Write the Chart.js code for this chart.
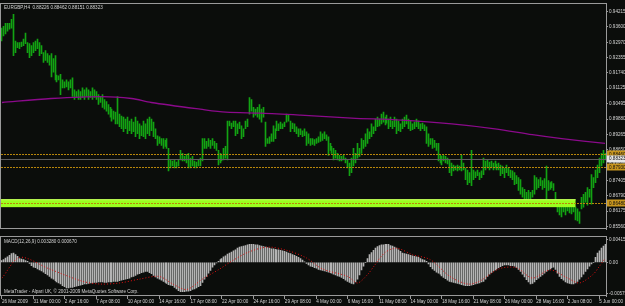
<!DOCTYPE html>
<html>
<head>
<meta charset="utf-8">
<script src="https://cdn.jsdelivr.net/npm/chart.js@4.4.1/dist/chart.umd.min.js"></script>
<style>
  html, body { margin: 0; padding: 0; background: #0b0d0b; overflow: hidden; }
  #wrap { position: relative; width: 625px; height: 306px; }
  canvas { position: absolute; left: 0; }
  #priceChart { top: 0; }
  #macdChart { top: 233px; }
</style>
</head>
<body>
<div id="wrap">
  <canvas id="priceChart" width="625" height="233"></canvas>
  <canvas id="macdChart" width="625" height="73"></canvas>
</div>
<script>
// EURGBP H4 bars, 26 Mar - 5 Jun 2009
const highs = [
  .9355,.9362,.9374,.9374,.9374,.9390,.9410,.9303,.9296,.9296,
  .9299,.9311,.9335,.9296,.9292,.9284,.9296,.9303,.9311,.9296,
  .9284,.9256,.9264,.9252,.9244,.9252,.9232,.9244,.9165,.9162,
  .9169,.9146,.9138,.9146,.9138,.9146,.9154,.9106,.9099,.9106,
  .9099,.9114,.9106,.9114,.9106,.9099,.9114,.9106,.9099,.9087,
  .9079,.9087,.9067,.9059,.9047,.9035,.9028,.9020,.9016,.9079,
  .9008,.9000,.8996,.8988,.8996,.8980,.8988,.8976,.8996,.8980,
  .8969,.8961,.8980,.8969,.8988,.8996,.8988,.8976,.8949,.8921,
  .8917,.8909,.8909,.8902,.8909,.8870,.8823,.8819,.8823,.8815,
  .8823,.8862,.8850,.8838,.8846,.8850,.8831,.8838,.8819,.8815,
  .8823,.8831,.8909,.8909,.8898,.8909,.8902,.8909,.8898,.8890,
  .8862,.8850,.8842,.8870,.8878,.8980,.8980,.8972,.8980,.8980,
  .8969,.8976,.8961,.8949,.8980,.8988,.9075,.9067,.9035,.9028,
  .9035,.9047,.9028,.9035,.8976,.8909,.8917,.8929,.8961,.8949,
  .8980,.8969,.8976,.8969,.8976,.9008,.9004,.8980,.8972,.8969,
  .8957,.8949,.8949,.8941,.8949,.8937,.8929,.8909,.8909,.8905,
  .8909,.8917,.8937,.8929,.8937,.8925,.8917,.8890,.8878,.8870,
  .8862,.8850,.8842,.8838,.8842,.8831,.8823,.8811,.8831,.8870,
  .8850,.8890,.8870,.8909,.8902,.8929,.8949,.8937,.8969,.8957,
  .8988,.8996,.8988,.9008,.9016,.8996,.9004,.8988,.8996,.8980,
  .8996,.8988,.8980,.8969,.8988,.8996,.9004,.8988,.8980,.8969,
  .8976,.8988,.8980,.8969,.8972,.8965,.8957,.8929,.8909,.8909,
  .8902,.8890,.8890,.8842,.8838,.8842,.8838,.8831,.8823,.8811,
  .8803,.8799,.8803,.8799,.8842,.8811,.8791,.8783,.8772,.8862,
  .8783,.8775,.8783,.8772,.8779,.8831,.8819,.8823,.8815,.8819,
  .8811,.8819,.8807,.8811,.8803,.8799,.8791,.8803,.8791,.8783,
  .8779,.8772,.8760,.8752,.8744,.8712,.8705,.8693,.8701,.8693,
  .8701,.8760,.8752,.8744,.8752,.8740,.8748,.8799,.8740,.8732,
  .8736,.8728,.8693,.8661,.8653,.8645,.8653,.8641,.8649,.8641,
  .8641,.8633,.8633,.8626,.8614,.8673,.8685,.8693,.8712,.8705,
  .8764,.8752,.8783,.8803,.8831,.8850,.8862,.8850
];
const lows = [
  .9303,.9323,.9331,.9343,.9351,.9355,.9244,.9256,.9276,.9272,
  .9280,.9284,.9292,.9256,.9236,.9244,.9256,.9264,.9272,.9244,
  .9252,.9217,.9225,.9217,.9205,.9158,.9177,.9146,.9138,.9146,
  .9087,.9114,.9114,.9118,.9106,.9114,.9079,.9067,.9075,.9067,
  .9067,.9075,.9067,.9079,.9067,.9075,.9067,.9075,.9067,.9047,
  .9055,.9035,.9028,.9020,.9008,.8996,.8980,.8988,.8969,.8969,
  .8957,.8949,.8937,.8949,.8929,.8941,.8929,.8937,.8917,.8929,
  .8909,.8921,.8917,.8909,.8929,.8921,.8941,.8917,.8909,.8882,
  .8890,.8882,.8870,.8878,.8870,.8779,.8791,.8799,.8791,.8791,
  .8799,.8823,.8819,.8819,.8811,.8791,.8791,.8799,.8791,.8791,
  .8799,.8799,.8819,.8870,.8870,.8878,.8870,.8882,.8870,.8862,
  .8803,.8811,.8819,.8823,.8831,.8823,.8961,.8949,.8957,.8921,
  .8929,.8949,.8909,.8917,.8949,.8957,.9008,.9020,.8996,.9004,
  .8996,.8988,.8976,.8996,.8878,.8890,.8890,.8898,.8898,.8909,
  .8941,.8941,.8949,.8949,.8957,.8976,.8980,.8937,.8949,.8937,
  .8929,.8917,.8925,.8917,.8921,.8882,.8890,.8882,.8886,.8882,
  .8890,.8894,.8898,.8902,.8909,.8902,.8842,.8862,.8850,.8823,
  .8831,.8823,.8819,.8819,.8823,.8811,.8791,.8760,.8772,.8799,
  .8811,.8831,.8838,.8850,.8870,.8878,.8890,.8909,.8917,.8929,
  .8941,.8957,.8961,.8969,.8976,.8965,.8972,.8949,.8957,.8949,
  .8957,.8929,.8941,.8937,.8949,.8957,.8969,.8949,.8941,.8945,
  .8949,.8957,.8949,.8941,.8949,.8941,.8890,.8878,.8886,.8870,
  .8874,.8862,.8819,.8811,.8803,.8819,.8811,.8807,.8772,.8760,
  .8779,.8783,.8779,.8783,.8779,.8783,.8744,.8724,.8732,.8720,
  .8744,.8752,.8760,.8744,.8752,.8764,.8783,.8791,.8783,.8791,
  .8783,.8791,.8783,.8783,.8760,.8768,.8752,.8772,.8760,.8752,
  .8744,.8724,.8728,.8701,.8685,.8673,.8645,.8653,.8665,.8665,
  .8673,.8685,.8705,.8712,.8720,.8705,.8712,.8665,.8701,.8705,
  .8712,.8701,.8653,.8614,.8602,.8594,.8614,.8602,.8618,.8610,
  .8606,.8614,.8582,.8578,.8567,.8626,.8633,.8653,.8641,.8673,
  .8645,.8712,.8732,.8752,.8772,.8799,.8811,.8823
];

// moving average, read at a few bars (drawn as a connected line)
const maAt  = [0, 25, 51, 66, 76, 101, 114, 132, 152, 178, 203, 229, 251, 270, 285, 307];
const maVal = [.9055, .9071, .9079, .9071, .9055, .9028, .9016, .9012, .9004, .8992, .8984, .8969, .8949, .8925, .8909, .8890];

// MACD(12,26,9) main histogram, one value per bar
const macdHist = [
  .0003,.0005,.0008,.0010,.0013,.0016,.0017,.0014,.0011,.0007,
  .0006,.0005,.0003,.0002,-.0002,-.0006,-.0009,-.0010,-.0012,-.0014,
  -.0016,-.0018,-.0021,-.0023,-.0026,-.0029,-.0031,-.0034,-.0036,-.0038,
  -.0040,-.0043,-.0045,-.0047,-.0047,-.0046,-.0046,-.0045,-.0044,-.0043,
  -.0042,-.0041,-.0040,-.0040,-.0039,-.0038,-.0038,-.0037,-.0037,-.0036,
  -.0036,-.0036,-.0037,-.0037,-.0036,-.0036,-.0036,-.0035,-.0035,-.0035,
  -.0034,-.0033,-.0032,-.0031,-.0030,-.0029,-.0027,-.0026,-.0024,-.0022,
  -.0021,-.0019,-.0018,-.0017,-.0017,-.0019,-.0021,-.0024,-.0027,-.0029,
  -.0031,-.0033,-.0035,-.0037,-.0039,-.0041,-.0042,-.0043,-.0046,-.0049,
  -.0052,-.0054,-.0054,-.0054,-.0053,-.0053,-.0052,-.0050,-.0049,-.0047,
  -.0045,-.0043,-.0037,-.0031,-.0026,-.0020,-.0015,-.0009,-.0005,-.0001,
  .0002,.0005,.0007,.0010,.0012,.0015,.0017,.0019,.0021,.0023,
  .0026,.0028,.0029,.0030,.0031,.0032,.0033,.0033,.0033,.0032,
  .0032,.0031,.0030,.0029,.0028,.0027,.0026,.0025,.0025,.0024,
  .0023,.0023,.0022,.0021,.0020,.0019,.0017,.0016,.0014,.0013,
  .0011,.0009,.0007,.0004,.0001,-.0002,-.0005,-.0007,-.0008,-.0010,
  -.0011,-.0013,-.0014,-.0015,-.0016,-.0017,-.0018,-.0019,-.0020,-.0022,
  -.0023,-.0025,-.0026,-.0028,-.0030,-.0033,-.0035,-.0037,-.0039,-.0040,
  -.0036,-.0031,-.0023,-.0014,-.0007,0,.0007,.0014,.0018,.0022,
  .0026,.0029,.0031,.0032,.0032,.0033,.0033,.0033,.0031,.0030,
  .0028,.0026,.0023,.0020,.0017,.0016,.0015,.0014,.0013,.0012,
  .0011,.0010,.0009,.0007,.0005,.0004,.0002,-.0003,-.0008,-.0012,
  -.0015,-.0018,-.0020,-.0022,-.0025,-.0028,-.0030,-.0033,-.0035,-.0036,
  -.0037,-.0038,-.0039,-.0040,-.0041,-.0042,-.0043,-.0043,-.0043,-.0042,
  -.0041,-.0040,-.0039,-.0038,-.0036,-.0035,-.0031,-.0026,-.0022,-.0019,
  -.0016,-.0014,-.0012,-.0010,-.0008,-.0006,-.0005,-.0005,-.0005,-.0006,
  -.0006,-.0007,-.0010,-.0013,-.0017,-.0022,-.0027,-.0032,-.0036,-.0040,
  -.0039,-.0036,-.0032,-.0029,-.0026,-.0023,-.0020,-.0017,-.0014,-.0012,
  -.0010,-.0009,-.0013,-.0020,-.0026,-.0030,-.0033,-.0036,-.0038,-.0039,
  -.0040,-.0040,-.0038,-.0035,-.0031,-.0027,-.0022,-.0017,-.0012,-.0007,
  -.0003,0,.0009,.0017,.0021,.0026,.0030,.0033
];
// signal line, read at a few bars
const sigAt  = [0, 9, 24, 41, 50, 60, 70, 80, 87, 94, 102, 111, 116, 125, 135, 145, 155, 163, 176, 181,
                186, 189, 195, 201, 209, 218, 228, 237, 243, 253, 262, 270, 279, 288, 294, 301, 304, 307];
const sigVal = [-.0029, .0009, -.0012, -.0035, -.0040, -.0038, -.0031, -.0026, -.0040, -.0050, -.0031, -.0012, 0, .0018, .0028, .0022, .0008, -.0012, -.0026, -.0038,
                -.0023, -.0009, .0018, .0026, .0014, .0005, -.0026, -.0040, -.0035, -.0012, -.0010, -.0029, -.0014, -.0029, -.0038, -.0022, -.0008, .0007];

// axis labels
const timeTicks = ['26 Mar 2009', '31 Mar 00:00', '2 Apr 16:00', '7 Apr 08:00', '10 Apr 00:00', '14 Apr 16:00',
  '17 Apr 08:00', '22 Apr 00:00', '24 Apr 16:00', '29 Apr 08:00', '4 May 00:00', '6 May 16:00', '11 May 08:00',
  '14 May 00:00', '18 May 16:00', '21 May 08:00', '26 May 00:00', '28 May 16:00', '2 Jun 08:00', '5 Jun 00:00'];
const barsPerLabel = 16;
const priceTicks = [0.94215, 0.93600, 0.92970, 0.92355, 0.91740, 0.91125, 0.90495, 0.89880, 0.89265,
  0.88650, 0.88035, 0.87405, 0.86790, 0.86175, 0.85560];
const macdTicks = [0.00415, 0, -0.00575];

// chart objects: horizontal levels, bid line and the lime rectangle
const goldLevels = [0.8846, 0.8793, 0.8648];
const goldText = ['0.88460', '0.87930', '0.86480'];
const bidLevel = 0.88290;
const bidText = '0.88323';
const bandTop = 0.8665, bandBottom = 0.8633, bandEndBar = 292;

const titleText = 'EURGBP,H4  0.88226 0.88462 0.88151 0.88323';
const macdText = 'MACD(12,26,9) 0.003280 0.000670';
const copyText = 'MetaTrader - Alpari UK, \u00a9 2001-2009 MetaQuotes Software Corp.';

const N = highs.length;
const labels = highs.map((_, i) => (i % barsPerLabel === 0 ? timeTicks[i / barsPerLabel] || '' : ''));

function sparse(at, vals) {
    const out = new Array(N).fill(null);
    at.forEach((idx, k) => { out[idx] = vals[k]; });
    return out;
}

const FONT = { family: 'Liberation Sans, Arial, sans-serif', size: 4.6 };
const TXT = '#d4d4d4';
const FRAME = '#9a9a9a';

function drawFrame(chart) {
    const { ctx, chartArea: a } = chart;
    ctx.save();
    ctx.strokeStyle = FRAME;
    ctx.lineWidth = 1;
    ctx.strokeRect(Math.round(a.left) - 0.5, Math.round(a.top) - 0.5,
        Math.round(a.right - a.left) + 1, Math.round(a.bottom - a.top));
    ctx.restore();
}

function boxLabel(ctx, x, y, w, text, fill) {
    ctx.fillStyle = fill;
    ctx.fillRect(x, Math.round(y) - 3.5, w, 7);
    ctx.fillStyle = '#111';
    ctx.textBaseline = 'middle';
    ctx.fillText(text, x + 2, y);
}

// keep the 1px bars on whole pixels so they stay crisp like the terminal's
const crispBars = {
    id: 'crispBars',
    beforeDatasetDraw(chart, args) {
        if (args.meta.type !== 'bar') return;
        args.meta.data.forEach(el => { el.x = Math.floor(el.x) + 0.5; });
    }
};

const priceOverlay = {
    id: 'priceOverlay',
    afterDatasetsDraw(chart) {
        const { ctx, chartArea: a, scales: { x, y } } = chart;
        ctx.save();
        // lime rectangle
        const right = x.getPixelForValue(bandEndBar);
        const t = y.getPixelForValue(bandTop), b = y.getPixelForValue(bandBottom);
        ctx.fillStyle = '#9bff1e';
        ctx.fillRect(a.left, t, right - a.left, b - t);
        ctx.fillStyle = '#c4ff60';
        ctx.fillRect(a.left, t, right - a.left, 1);
        // bid line
        const by = Math.round(y.getPixelForValue(bidLevel)) + 0.5;
        ctx.strokeStyle = '#5e5e5e';
        ctx.lineWidth = 1;
        ctx.beginPath(); ctx.moveTo(a.left, by); ctx.lineTo(a.right, by); ctx.stroke();
        // dotted gold levels
        ctx.strokeStyle = '#b8860b';
        ctx.setLineDash([2, 1]);
        goldLevels.forEach(v => {
            const ly = Math.round(y.getPixelForValue(v)) + 0.5;
            ctx.beginPath(); ctx.moveTo(a.left, ly); ctx.lineTo(a.right, ly); ctx.stroke();
        });
        ctx.restore();
    },
    afterDraw(chart) {
        const { ctx, chartArea: a, scales: { y } } = chart;
        drawFrame(chart);
        ctx.save();
        ctx.font = `${FONT.size}px ${FONT.family}`;
        ctx.fillStyle = TXT;
        ctx.textBaseline = 'middle';
        ctx.fillText(titleText, a.left + 3, a.top + 4);
        const bx = a.right + 1, bw = chart.width - a.right;
        goldLevels.forEach((v, k) => boxLabel(ctx, bx, y.getPixelForValue(v), bw, goldText[k], '#c8961e'));
        boxLabel(ctx, bx, y.getPixelForValue(bidLevel), bw, bidText, '#e6e6e6');
        ctx.restore();
    }
};

const macdOverlay = {
    id: 'macdOverlay',
    afterDraw(chart) {
        const { ctx, chartArea: a } = chart;
        drawFrame(chart);
        ctx.save();
        ctx.font = `${FONT.size}px ${FONT.family}`;
        ctx.fillStyle = TXT;
        ctx.textBaseline = 'middle';
        ctx.fillText(macdText, a.left + 3, a.top + 5);
        ctx.fillText(copyText, a.left + 3, a.bottom - 4);
        ctx.restore();
    }
};

function rightAxis(width) {
    return {
        position: 'right',
        grid: { drawOnChartArea: false, drawTicks: true, tickLength: 2, color: FRAME },
        border: { display: true, color: FRAME },
        afterFit: scale => { scale.width = width; }
    };
}

const priceY = Object.assign(rightAxis(19), {
    min: 0.8544, max: 0.9453,
    afterBuildTicks: scale => { scale.ticks = priceTicks.map(v => ({ value: v })); },
    ticks: { color: TXT, font: FONT, padding: 1, callback: v => v.toFixed(5) }
});

new Chart(document.getElementById('priceChart'), {
    type: 'bar',
    data: {
        labels: labels,
        datasets: [
            {
                type: 'line',
                data: sparse(maAt, maVal),
                borderColor: '#8b0a8b',
                borderWidth: 1.3,
                pointRadius: 0,
                spanGaps: true,
                tension: 0.3,
                order: 1
            },
            {
                data: highs.map((h, i) => [lows[i], h]),
                backgroundColor: '#13a313',
                borderWidth: 0,
                barThickness: 1,
                order: 2
            }
        ]
    },
    options: {
        responsive: false,
        animation: false,
        layout: { padding: { left: 1, top: 2, right: 0, bottom: 1 } },
        scales: {
            x: { display: false, offset: true },
            y: priceY
        },
        plugins: { legend: { display: false }, tooltip: { enabled: false } }
    },
    plugins: [crispBars, priceOverlay]
});

const macdY = Object.assign(rightAxis(19), {
    min: -0.0062, max: 0.0047,
    afterBuildTicks: scale => { scale.ticks = macdTicks.map(v => ({ value: v })); },
    ticks: { color: TXT, font: FONT, padding: 1, callback: v => (v === 0 ? '0.00' : v.toFixed(6)) }
});

new Chart(document.getElementById('macdChart'), {
    type: 'bar',
    data: {
        labels: labels,
        datasets: [
            {
                type: 'line',
                data: sparse(sigAt, sigVal),
                borderColor: '#e01010',
                borderWidth: 1,
                borderDash: [1, 2],
                pointRadius: 0,
                spanGaps: true,
                tension: 0.3,
                order: 1
            },
            {
                data: macdHist,
                backgroundColor: '#b4b4b4',
                borderWidth: 0,
                barThickness: 1,
                order: 2
            }
        ]
    },
    options: {
        responsive: false,
        animation: false,
        layout: { padding: { left: 1, top: 0, right: 0, bottom: 0 } },
        scales: {
            x: {
                offset: true,
                grid: { offset: false, drawOnChartArea: false, drawTicks: true, tickLength: 3, color: FRAME },
                border: { display: false },
                ticks: {
                    color: TXT, font: FONT, autoSkip: false, maxRotation: 0, align: 'start', padding: 0,
                    callback: (v, i) => labels[i] || null
                },
                afterFit: scale => { scale.height = 10; scale.paddingLeft = 0; scale.paddingRight = 0; }
            },
            y: macdY
        },
        plugins: { legend: { display: false }, tooltip: { enabled: false } }
    },
    plugins: [crispBars, macdOverlay]
});
</script>
</body>
</html>
